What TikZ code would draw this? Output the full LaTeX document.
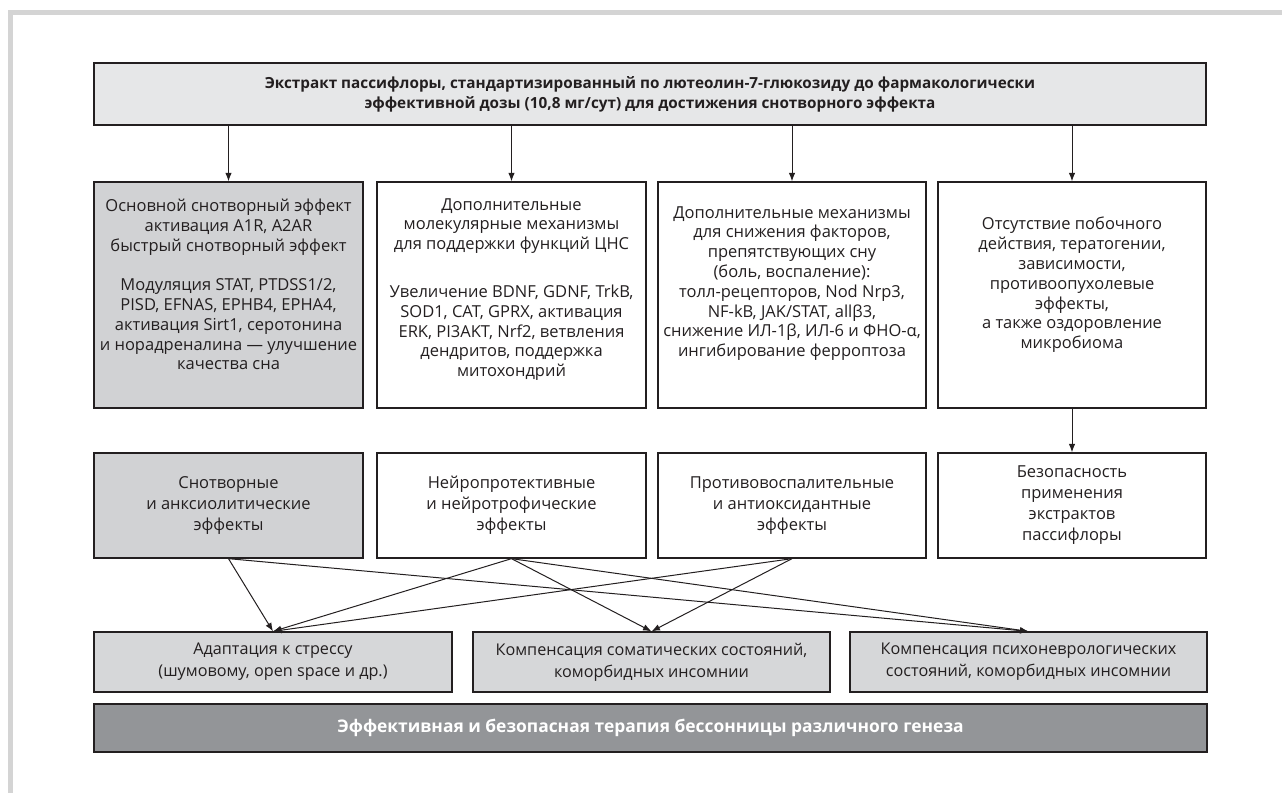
\documentclass[tikz,border=0pt]{standalone}
\usepackage{fontspec}
\setmainfont{Open Sans}
\usetikzlibrary{arrows.meta}
\definecolor{framegray}{HTML}{D4D4D4}
\definecolor{edge}{HTML}{231F20}
\definecolor{topfill}{HTML}{E6E7E8}
\definecolor{darkfill}{HTML}{D1D2D4}
\definecolor{rowfour}{HTML}{D6D7D9}
\definecolor{barfill}{HTML}{939598}
\begin{document}
\begin{tikzpicture}[x=1pt,y=-1pt,
  box/.style={draw=edge, line width=1.3pt, rectangle, inner sep=0pt, align=center,
    font=\fontsize{16.5}{21}\selectfont, text=edge},
  txt/.style={align=center, inner sep=0pt, font=\fontsize{16.5}{19.8}\selectfont, text=edge},
  arr/.style={draw=edge, line width=1pt, -{Latex[length=8.5pt,width=6.5pt]}},
  rtwo/.style={box, minimum width=269pt, minimum height=226pt},
  rthree/.style={box, minimum width=269pt, minimum height=105pt},
  rfour/.style={box, fill=rowfour, minimum width=358pt, minimum height=60pt,
    font=\fontsize{16.2}{22}\selectfont}
]
\useasboundingbox (0,0) rectangle (1282,793);
% frame
\fill[framegray] (8,10) rectangle (1282,15);
\fill[framegray] (8,10) rectangle (13,793);

% top box
\node[box, fill=topfill, minimum width=1112pt, minimum height=62pt,
  font=\fontsize{15.3}{20}\selectfont\bfseries] (top) at (650,94)
  {Экстракт пассифлоры, стандартизированный по лютеолин-7-глюкозиду до фармакологически\\
   эффективной дозы (10,8 мг/сут) для достижения снотворного эффекта};

% row 2
\node[rtwo, fill=darkfill] (r2a) at (228.5,295) {};
\node[rtwo] (r2b) at (511.5,295) {};
\node[rtwo, minimum width=268pt] (r2c) at (792,295) {};
\node[rtwo, minimum width=268pt] (r2d) at (1072,295) {};

\node[txt] (r2at) at (228.5,284.5) {Основной снотворный эффект\\
  активация A1R, A2AR\\
  быстрый снотворный эффект\\[19.8pt]
  Модуляция STAT, PTDSS1/2,\\
  PISD, EFNAS, EPHB4, EPHA4,\\
  активация Sirt1, серотонина\\
  и норадреналина — улучшение\\
  качества сна};
\node[txt] (r2bt) at (511.5,289.5) {Дополнительные\\
  молекулярные механизмы\\
  для поддержки функций ЦНС\\[28pt]
  Увеличение BDNF, GDNF, TrkB,\\
  SOD1, CAT, GPRX, активация\\
  ERK, PI3AKT, Nrf2, ветвления\\
  дендритов, поддержка\\
  митохондрий};
\node[txt] (r2ct) at (792,283.5) {Дополнительные механизмы\\
  для снижения факторов,\\
  препятствующих сну\\
  (боль, воспаление):\\
  толл-рецепторов, Nod Nrp3,\\
  NF-kB, JAK/STAT, allβ3,\\
  снижение ИЛ-1β, ИЛ-6 и ФНО-α,\\
  ингибирование ферроптоза};
\node[txt] (r2dt) at (1072,285) {Отсутствие побочного\\
  действия, тератогении,\\
  зависимости,\\
  противоопухолевые\\
  эффекты,\\
  а также оздоровление\\
  микробиома};

% row 3
\node[rthree, fill=darkfill] (r3a) at (228.5,505.5) {Снотворные\\ и анксиолитические\\ эффекты};
\node[rthree] (r3b) at (511.5,505.5) {Нейропротективные\\ и нейротрофические\\ эффекты};
\node[rthree, minimum width=268pt] (r3c) at (792,505.5) {Противовоспалительные\\ и антиоксидантные\\ эффекты};
\node[rthree, minimum width=268pt] (r3d) at (1072,505.5) {Безопасность\\ применения\\ экстрактов\\ пассифлоры};

% row 4
\node[rfour] (r4a) at (273,662) {Адаптация к стрессу\\ (шумовому, open space и др.)};
\node[rfour, minimum width=357pt] (r4b) at (651.5,662) {Компенсация соматических состояний,\\ коморбидных инсомнии};
\node[rfour, minimum width=357pt] (r4c) at (1028.5,662) {Компенсация психоневрологических\\ состояний, коморбидных инсомнии};

% bottom bar
\node[box, fill=barfill, text=white, minimum width=1113pt, minimum height=48pt,
  font=\fontsize{17.4}{22}\selectfont\bfseries] (bar) at (650.5,728)
  {Эффективная и безопасная терапия бессонницы различного генеза};

% arrows top -> row 2
\draw[arr] (top.south -| r2a.north) -- (r2a.north);
\draw[arr] (top.south -| r2b.north) -- (r2b.north);
\draw[arr] (top.south -| r2c.north) -- (r2c.north);
\draw[arr] (top.south -| r2d.north) -- (r2d.north);
% row 2 -> row 3
\draw[arr] (r2d.south) -- (r3d.north);
% row 3 -> row 4
\draw[arr] (r3a.south) -- (r4a.north);
\draw[arr] (r3a.south) -- (r4c.north);
\draw[arr] (r3b.south) -- (r4a.north);
\draw[arr] (r3b.south) -- (r4b.north);
\draw[arr] (r3b.south) -- (r4c.north);
\draw[arr] (r3c.south) -- (r4a.north);
\draw[arr] (r3c.south) -- (r4b.north);
\end{tikzpicture}
\end{document}
